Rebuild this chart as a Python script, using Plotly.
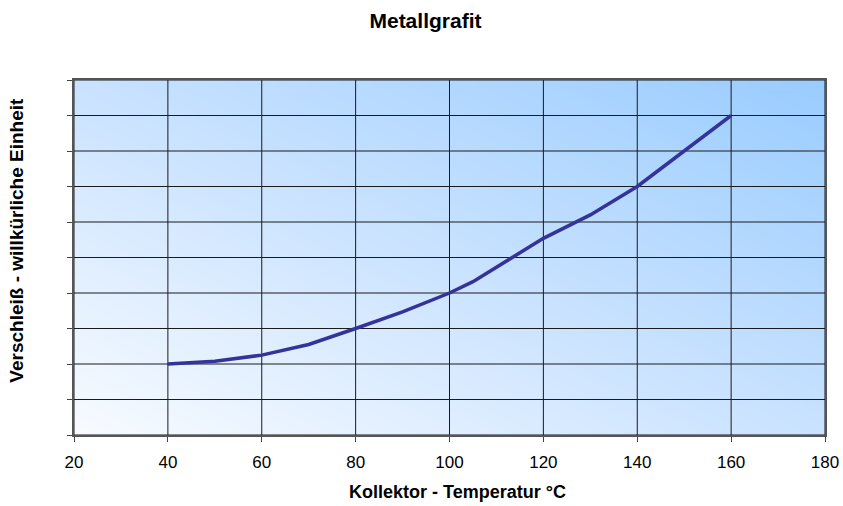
import numpy as np
import plotly.graph_objects as go

temperature = [40, 50, 60, 70, 80, 90, 100, 105, 120, 130, 140, 150, 160]
wear = [2.0, 2.08, 2.25, 2.55, 3.0, 3.47, 4.0, 4.32, 5.54, 6.2, 7.0, 8.0, 9.0]
x_ticks = [20, 40, 60, 80, 100, 120, 140, 160, 180]
y_ticks = list(range(0, 11))

X_RANGE = [20, 180]
Y_RANGE = [0, 10]

fig = go.Figure()

# diagonal gradient background (bottom-left pale -> top-right light blue)
n = 60
gx = np.linspace(X_RANGE[0], X_RANGE[1], n + 1)
gy = np.linspace(Y_RANGE[0], Y_RANGE[1], n + 1)
cx = (np.arange(n) + 0.5) / n
cy = (np.arange(n) + 0.5) / n
Z = (cx[None, :] + cy[:, None]) / 2.0
fig.add_trace(go.Heatmap(
    x=gx, y=gy, z=Z, zsmooth="best", showscale=False, hoverinfo="skip",
    colorscale=[[0, "#F8FBFF"], [0.5, "#C9E2FF"], [1, "#99CCFF"]],
    zmin=0, zmax=1,
))

# grid lines drawn above background
gxs, gys = [], []
for v in x_ticks:
    gxs += [v, v, None]
    gys += [Y_RANGE[0], Y_RANGE[1], None]
for v in y_ticks:
    gxs += [X_RANGE[0], X_RANGE[1], None]
    gys += [v, v, None]
fig.add_trace(go.Scatter(x=gxs, y=gys, mode="lines",
                         line=dict(color="#1a1a1a", width=1),
                         hoverinfo="skip", showlegend=False))

fig.add_trace(go.Scatter(x=temperature, y=wear, mode="lines",
                         line=dict(color="#333399", width=3.5),
                         showlegend=False))

fig.update_layout(
    width=843, height=506,
    margin=dict(l=74, r=18, t=80, b=71),
    paper_bgcolor="white", plot_bgcolor="white",
    font=dict(family="Liberation Sans, Arial, sans-serif", color="black"),
    title=dict(text="<b>Metallgrafit</b>", x=0.468, xref="paper", xanchor="center",
               y=0.96, yanchor="middle", font=dict(size=21)),
    showlegend=False,
    annotations=[
        dict(text="<b>Kollektor - Temperatur °C</b>", xref="paper", yref="paper",
             x=0.51, y=-0.16, xanchor="center", yanchor="middle",
             showarrow=False, font=dict(size=18)),
        dict(text="<b>Verschleiß - willkürliche Einheit</b>", xref="paper", yref="paper",
             x=-0.076, y=0.55, xanchor="center", yanchor="middle", textangle=-90,
             showarrow=False, font=dict(size=19)),
    ],
)
fig.update_xaxes(
    range=X_RANGE, tickvals=x_ticks, ticks="outside", ticklen=5,
    tickcolor="#444", tickfont=dict(size=17), ticklabelstandoff=6,
    showgrid=False, zeroline=False, automargin=False,
    showline=True, linecolor="#555", linewidth=2, mirror=True,
)
fig.update_yaxes(
    range=Y_RANGE, tickvals=y_ticks, ticks="outside", ticklen=5,
    tickcolor="#444", showticklabels=False, showgrid=False, zeroline=False,
    automargin=False,
    showline=True, linecolor="#555", linewidth=2, mirror=True,
)

fig.write_html("out.html")
